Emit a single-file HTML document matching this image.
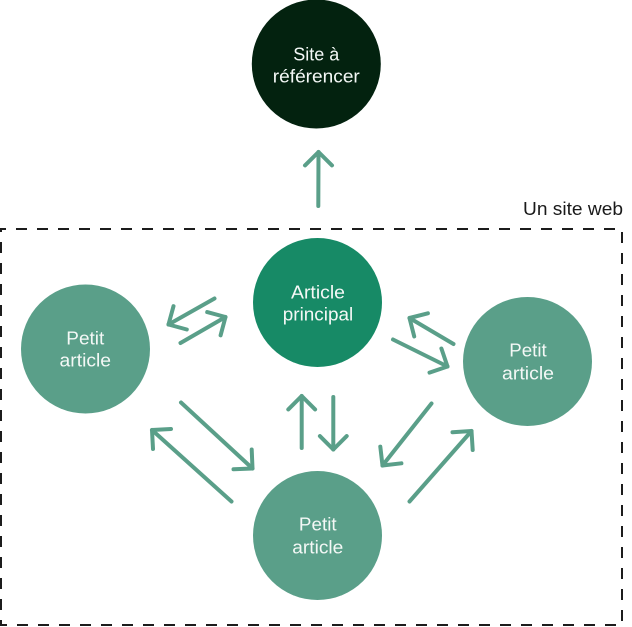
<!DOCTYPE html>
<html>
<head>
<meta charset="utf-8">
<style>
  html, body { margin: 0; padding: 0; background: #ffffff; }
  body { width: 632px; height: 627px; overflow: hidden; }
  svg { display: block; }
  text { font-family: "Liberation Sans", "DejaVu Sans", sans-serif; }
</style>
</head>
<body>
<svg width="632" height="627" viewBox="0 0 632 627" xmlns="http://www.w3.org/2000/svg">
  <!-- dashed boundary -->
  <rect x="1" y="229" width="621" height="396" fill="none" stroke="#1c1c1c" stroke-width="2" stroke-dasharray="11 10" stroke-dashoffset="6"/>
  <text x="623" y="215" font-size="18" fill="#1a1a1a" text-anchor="end" textLength="100" lengthAdjust="spacingAndGlyphs">Un site web</text>

  <!-- circles -->
  <circle cx="316.3" cy="64" r="64.5" fill="#03220f"/>
  <circle cx="317.5" cy="302.5" r="64.5" fill="#178a66"/>
  <circle cx="85.5" cy="349" r="64.5" fill="#5a9f89"/>
  <circle cx="527.5" cy="361.5" r="64.5" fill="#5a9f89"/>
  <circle cx="317.5" cy="535.5" r="64.5" fill="#5a9f89"/>

  <!-- labels -->
  <g fill="#f4f8f6" font-size="18" text-anchor="middle">
    <text x="316.3" y="60.5" textLength="46" lengthAdjust="spacingAndGlyphs">Site à</text>
    <text x="316.3" y="82.3" textLength="87" lengthAdjust="spacingAndGlyphs">référencer</text>

    <text x="318" y="298.3" textLength="54" lengthAdjust="spacingAndGlyphs">Article</text>
    <text x="318" y="320.3" textLength="70.5" lengthAdjust="spacingAndGlyphs">principal</text>

    <text x="85.3" y="344.3" textLength="38" lengthAdjust="spacingAndGlyphs">Petit</text>
    <text x="85.3" y="366.7" textLength="51.5" lengthAdjust="spacingAndGlyphs">article</text>

    <text x="528" y="356.7" textLength="37.5" lengthAdjust="spacingAndGlyphs">Petit</text>
    <text x="528" y="379.3" textLength="52" lengthAdjust="spacingAndGlyphs">article</text>

    <text x="317.8" y="530.7" textLength="37.7" lengthAdjust="spacingAndGlyphs">Petit</text>
    <text x="317.8" y="553.3" textLength="51" lengthAdjust="spacingAndGlyphs">article</text>
  </g>

  <!-- arrows -->
  <g fill="none" stroke="#5a9f89" stroke-width="4" stroke-linecap="round" stroke-linejoin="round">
    <!-- up to site -->
    <line x1="318.3" y1="206" x2="318.5" y2="152"/>
    <polyline points="305,165.4 318.5,152 332,165.4"/>

    <!-- center -> left (pointing left) -->
    <line x1="214.5" y1="298.5" x2="168.5" y2="324.5"/>
    <polyline points="173.5,306.2 168.5,324.5 186.8,329.5"/>

    <!-- left -> center (pointing right) -->
    <line x1="180.5" y1="343" x2="225.5" y2="317"/>
    <polyline points="207.2,312.1 225.5,317 220.6,335.3"/>

    <!-- left -> bottom -->
    <line x1="181" y1="402.5" x2="252.5" y2="468.5"/>
    <polyline points="251.7,449.5 252.5,468.5 233.5,469.3"/>

    <!-- bottom -> left -->
    <line x1="231.5" y1="501.5" x2="152" y2="430"/>
    <polyline points="153,449 152,430 171,429"/>

    <!-- bottom -> center (up) -->
    <line x1="301.7" y1="448" x2="301.7" y2="396"/>
    <polyline points="288.3,409.4 301.7,396 315.1,409.4"/>

    <!-- center -> bottom (down) -->
    <line x1="333.3" y1="397" x2="333.3" y2="449.5"/>
    <polyline points="319.9,436.1 333.3,449.5 346.7,436.1"/>

    <!-- right -> bottom -->
    <line x1="431.5" y1="403.5" x2="382.5" y2="465.5"/>
    <polyline points="380.3,446.6 382.5,465.5 401.4,463.3"/>

    <!-- bottom -> right -->
    <line x1="409.5" y1="501.5" x2="471.5" y2="431"/>
    <polyline points="452.5,432.2 471.5,431 472.7,450"/>

    <!-- right -> center -->
    <line x1="453.5" y1="344" x2="409.5" y2="318"/>
    <polyline points="427.9,313.3 409.5,318 414.2,336.4"/>

    <!-- center -> right -->
    <line x1="393" y1="339.5" x2="447.5" y2="366.5"/>
    <polyline points="441.4,348.5 447.5,366.5 429.5,372.6"/>
  </g>
</svg>
</body>
</html>
